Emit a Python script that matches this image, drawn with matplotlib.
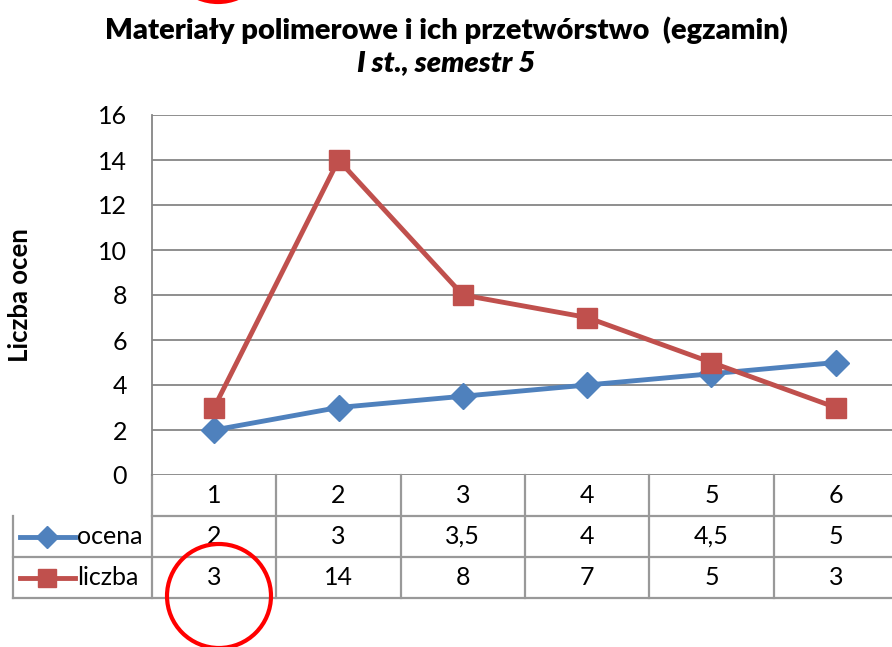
import matplotlib.pyplot as plt
from matplotlib.patches import Circle
import numpy as np

categories = ["1", "2", "3", "4", "5", "6"]
ocena = [2, 3, 3.5, 4, 4.5, 5]
liczba = [3, 14, 8, 7, 5, 3]
ocena_labels = ["2", "3", "3,5", "4", "4,5", "5"]
liczba_labels = ["3", "14", "8", "7", "5", "3"]
yticks = [0, 2, 4, 6, 8, 10, 12, 14, 16]

blue = "#4F81BD"
red = "#C0504D"
grid = "#868686"
font = "Lato"
fs = 18

W, H = 892, 647
fig = plt.figure(figsize=(W / 100, H / 100), dpi=100)
plt.rcParams['font.family'] = [font, 'DejaVu Sans']

# plot area in pixels: left 152, right 898 (runs past the edge), top 115, bottom 475
ax = fig.add_axes([152 / W, 1 - 475 / H, (898 - 152) / W, (475 - 115) / H])
x = np.arange(1, len(categories) + 1)
ax.set_xlim(0.5, len(categories) + 0.5)
ax.set_ylim(0, 16)
ax.set_yticks(yticks)
ax.set_yticklabels([str(v) for v in yticks], fontsize=fs)
ax.tick_params(axis='y', length=0, pad=18)
ax.set_xticks([])
for v in yticks:
    ax.axhline(v, color=grid, lw=1.3, zorder=0)
for s in ["top", "right", "bottom"]:
    ax.spines[s].set_visible(False)
ax.spines["left"].set_color(grid)
ax.spines["left"].set_linewidth(1.3)

ax.plot(x, ocena, color=blue, lw=3.5, marker="D", ms=13, zorder=3, clip_on=False)
ax.plot(x, liczba, color=red, lw=3.5, marker="s", ms=14.5, zorder=4, clip_on=False)

ax.set_ylabel("Liczba ocen", fontsize=fs + 0.5, fontweight="bold")
ax.yaxis.set_label_coords(-120 / 746, 0.5)

fig.text(0.5, 1 - 30 / H, "Materiały polimerowe i ich przetwórstwo  (egzamin)",
         ha="center", va="center", fontsize=21, fontweight="heavy")
fig.text(0.5, 1 - 63 / H, "I st., semestr 5", ha="center", va="center",
         fontsize=21, fontweight="heavy", style="italic")

# data table under the plot, drawn with x in data units and y in axes units
tr = ax.get_xaxis_transform()
row_h = 41 / 360
left_x = 0.5 - (152 - 13) / (746 / 6)
rows_y = [0, -row_h, -2 * row_h, -3 * row_h]
line_kw = dict(color="#999999", lw=1.6, transform=tr, clip_on=False)
ax.plot([0.5, 6.5], [rows_y[1]] * 2, **line_kw)
ax.plot([left_x, 6.5], [rows_y[2]] * 2, **line_kw)
ax.plot([left_x, 6.5], [rows_y[3]] * 2, **line_kw)
ax.plot([left_x, left_x], [rows_y[1], rows_y[3]], **line_kw)
for b in np.arange(0.5, len(categories) + 1, 1.0):
    ax.plot([b, b], [rows_y[0], rows_y[3]], **line_kw)

for i, c in enumerate(categories):
    ax.text(x[i], -0.5 * row_h, c, transform=tr, ha="center", va="center", fontsize=fs)
    ax.text(x[i], -1.5 * row_h, ocena_labels[i], transform=tr, ha="center", va="center", fontsize=fs)
    ax.text(x[i], -2.5 * row_h, liczba_labels[i], transform=tr, ha="center", va="center", fontsize=fs)

# legend keys inside the table
px = 746 / 6
k0, k1, km = 0.5 - (152 - 20) / px, 0.5 - (152 - 75) / px, 0.5 - (152 - 47) / px
ax.plot([k0, k1], [-1.5 * row_h] * 2, color=blue, lw=3.5, transform=tr, clip_on=False)
ax.plot([km], [-1.5 * row_h], color=blue, marker="D", ms=11, transform=tr, clip_on=False)
ax.plot([k0, k1], [-2.5 * row_h] * 2, color=red, lw=3.5, transform=tr, clip_on=False)
ax.plot([km], [-2.5 * row_h], color=red, marker="s", ms=13, transform=tr, clip_on=False)
tx = 0.5 - (152 - 77) / px
ax.text(tx, -1.5 * row_h, "ocena", transform=tr, ha="left", va="center", fontsize=fs)
ax.text(tx, -2.5 * row_h, "liczba", transform=tr, ha="left", va="center", fontsize=fs)

# red hand-drawn circles on the reference (pixel coords converted to inches)
for cx, cy in [(219, 596), (218, -50)]:
    fig.add_artist(Circle((cx / 100, (H - cy) / 100), 0.52, transform=fig.dpi_scale_trans,
                          fill=False, ec="#FF0000", lw=3))

fig.savefig("out.png", dpi=100)
